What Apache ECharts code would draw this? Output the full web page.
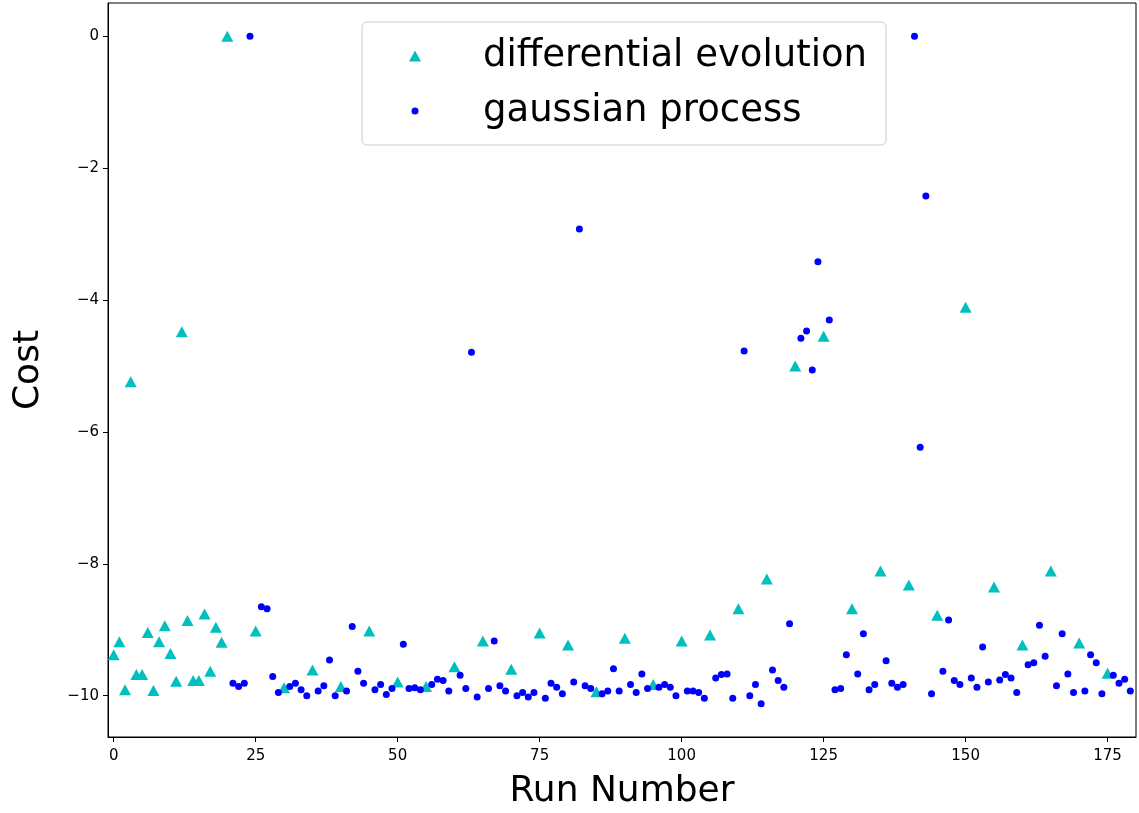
<!DOCTYPE html>
<html>
<head>
<meta charset="utf-8">
<script src="https://cdn.jsdelivr.net/npm/echarts@6/dist/echarts.min.js"></script>
<style>
html,body{margin:0;padding:0;background:#fff;}
#chart{width:1139px;height:813px;}
</style>
</head>
<body>
<div id="chart"></div>
<script>
const seriesNames = ['differential evolution', 'gaussian process'];

const deRuns = [0,1,2,3,4,5,6,7,8,9,10,11,12,13,14,15,16,17,18,19,20,
  25,30,35,40,45,50,55,60,65,70,75,80,85,90,95,100,105,110,115,120,125,130,135,140,145,150,155,160,165,170,175];
const deCost = [-9.38,-9.18,-9.91,-5.24,-9.68,-9.68,-9.04,-9.92,-9.18,-8.94,-9.36,-9.78,-4.48,-8.86,-9.77,-9.77,-8.76,-9.63,-8.96,-9.19,0,
  -9.02,-9.88,-9.61,-9.86,-9.02,-9.79,-9.86,-9.56,-9.17,-9.6,-9.05,-9.23,-9.94,-9.13,-9.83,-9.17,-9.08,-8.68,-8.23,-5.0,-4.55,-8.68,-8.11,-8.32,-8.78,-4.11,-8.35,-9.23,-8.11,-9.2,-9.66];

const gpRuns = [21,22,23,24,26,27,28,29,31,32,33,34,36,37,38,39,41,42,43,44,46,47,48,49,
  51,52,53,54,56,57,58,59,61,62,63,64,66,67,68,69,71,72,73,74,76,77,78,79,
  81,82,83,84,86,87,88,89,91,92,93,94,96,97,98,99,101,102,103,104,106,107,108,109,
  111,112,113,114,116,117,118,119,121,122,123,124,126,127,128,129,131,132,133,134,136,137,138,139,
  141,142,143,144,146,147,148,149,151,152,153,154,156,157,158,159,161,162,163,164,166,167,168,169,
  171,172,173,174,176,177,178,179];
const gpCost = [-9.81,-9.86,-9.81,0,-8.65,-8.68,-9.71,-9.95,-9.86,-9.81,-9.91,-10.0,-9.93,-9.85,-9.46,-10.0,-9.93,-8.95,-9.63,-9.81,-9.91,-9.83,-9.98,-9.89,
  -9.22,-9.89,-9.88,-9.91,-9.83,-9.75,-9.77,-9.93,-9.69,-9.89,-4.79,-10.02,-9.89,-9.17,-9.85,-9.93,-10.0,-9.95,-10.02,-9.95,-10.04,-9.81,-9.87,-9.97,
  -9.79,-2.92,-9.85,-9.89,-9.97,-9.93,-9.59,-9.93,-9.83,-9.95,-9.67,-9.89,-9.87,-9.83,-9.87,-10.0,-9.93,-9.93,-9.95,-10.04,-9.73,-9.68,-9.67,-10.04,
  -4.77,-10.0,-9.83,-10.12,-9.61,-9.77,-9.87,-8.91,-4.58,-4.47,-5.06,-3.42,-4.3,-9.91,-9.89,-9.38,-9.67,-9.06,-9.91,-9.83,-9.47,-9.81,-9.87,-9.83,
  0,-6.23,-2.42,-9.97,-9.63,-8.85,-9.77,-9.83,-9.73,-9.87,-9.26,-9.79,-9.76,-9.68,-9.73,-9.95,-9.53,-9.5,-8.93,-9.4,-9.85,-9.06,-9.67,-9.95,
  -9.93,-9.38,-9.5,-9.97,-9.69,-9.81,-9.75,-9.93];

const xTicks = [0,25,50,75,100,125,150,175];
const yTicks = [0,-2,-4,-6,-8,-10];

const FONT = 'DejaVu Sans';
const deData = deRuns.map((r, i) => [r, deCost[i]]);
const gpData = gpRuns.map((r, i) => [r, gpCost[i]]);

const chart = echarts.init(document.getElementById('chart'), null, {renderer: 'canvas'});
chart.setOption({
  animation: false,
  backgroundColor: '#ffffff',
  grid: {left: 108, right: 3, top: 3, bottom: 76, show: true, borderColor: '#000', borderWidth: 1,
    backgroundColor: 'transparent', outerBoundsMode: 'none', containLabel: false},
  xAxis: {
    type: 'value', min: -1, max: 180,
    name: 'Run Number', nameLocation: 'middle', nameGap: 37,
    nameTextStyle: {fontFamily: FONT, fontSize: 36, color: '#000'},
    axisLine: {show: true, onZero: false, lineStyle: {color: '#000', width: 1}},
    axisTick: {show: true, length: 5, lineStyle: {color: '#000'}, customValues: xTicks},
    axisLabel: {fontFamily: FONT, fontSize: 15, color: '#000', margin: 12, customValues: xTicks},
    splitLine: {show: false}
  },
  yAxis: {
    type: 'value', min: -10.626, max: 0.506,
    name: 'Cost', nameLocation: 'middle', nameGap: 61, nameRotate: 90,
    nameTextStyle: {fontFamily: FONT, fontSize: 36, color: '#000'},
    axisLine: {show: true, onZero: false, lineStyle: {color: '#000', width: 1}},
    axisTick: {show: true, length: 5, lineStyle: {color: '#000'}, customValues: yTicks},
    axisLabel: {fontFamily: FONT, fontSize: 15, color: '#000', margin: 9, customValues: yTicks,
      formatter: v => String(v).replace('-', '\u2212')},
    splitLine: {show: false}
  },
  legend: {
    orient: 'vertical', left: 362, top: 22,
    padding: [12, 19, 12, 18], itemGap: 11,
    itemWidth: 98, itemHeight: 20,
    backgroundColor: 'rgba(255,255,255,0.8)', borderColor: '#cccccc', borderWidth: 1, borderRadius: 5,
    selectedMode: false,
    textStyle: {fontFamily: FONT, fontSize: 37, color: '#000', lineHeight: 44},
    data: [
      {name: seriesNames[0], icon: 'path://M0 0M98 20M29 15.5L41 15.5L35 4.5Z'},
      {name: seriesNames[1], icon: 'path://M0 0M98 20M31.5 10A3.5 3.5 0 1 0 38.5 10A3.5 3.5 0 1 0 31.5 10Z'}
    ]
  },
  series: [
    {name: seriesNames[0], type: 'scatter', data: deData, symbol: 'triangle', symbolSize: [12, 11],
      itemStyle: {color: '#00bfbf', opacity: 1}, z: 2},
    {name: seriesNames[1], type: 'scatter', data: gpData, symbol: 'circle', symbolSize: 7,
      itemStyle: {color: '#0000ff', opacity: 1}, z: 3}
  ]
});
</script>
</body>
</html>
